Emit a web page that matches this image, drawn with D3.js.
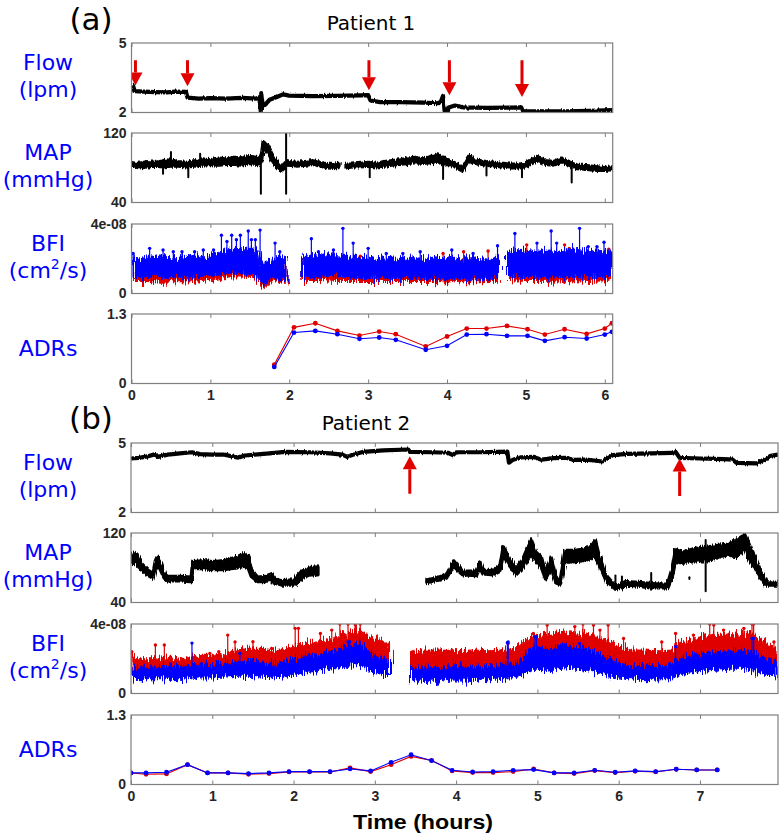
<!DOCTYPE html>
<html>
<head>
<meta charset="utf-8">
<script src="https://cdn.jsdelivr.net/npm/d3@7"></script>
<style>
  body { margin: 0; background: #fff; }
  svg text { font-family: "Liberation Sans", Arial, sans-serif; }
  .lab { font-family: "DejaVu Sans", sans-serif; }
</style>
</head>
<body>
<svg id="chart" width="780" height="836"></svg>
<script>
// ---------- data (time in hours) ----------

// y tick labels (only the limits are labelled)
const flowTicks = [2, 5];
const mapTicks = [40, 120];
const bfiTicks = [0, 4];            // BFI values below are in units of 1e-8 cm2/s
const bfiTickText = ["0", "4e-08"];
const adrTicks = [0, 1.3];

// Patient 1 -- flow [t, lpm]
const flowA = [
  [0.00, 3.10], [0.02, 3.15], [0.04, 2.92], [0.15, 2.90], [0.30, 2.88], [0.45, 2.87], [0.55, 2.90],
  [0.69, 2.89], [0.71, 2.64], [0.85, 2.60], [1.00, 2.62], [1.20, 2.60], [1.40, 2.63], [1.58, 2.60],
  [1.62, 2.66], [1.64, 2.02], [1.645, 2.84], [1.66, 2.40], [1.69, 2.32], [1.75, 2.55], [1.85, 2.68],
  [1.92, 2.78], [2.00, 2.73], [2.30, 2.71], [2.60, 2.72], [2.90, 2.74], [3.00, 2.75], [3.03, 2.52],
  [3.15, 2.45], [3.40, 2.45], [3.70, 2.43], [3.88, 2.40], [3.92, 2.45], [3.95, 2.72], [3.97, 2.05],
  [4.01, 2.05], [4.02, 2.22], [4.10, 2.30], [4.20, 2.22], [4.50, 2.20], [4.80, 2.21], [4.94, 2.22],
  [4.96, 2.06], [5.20, 2.05], [5.50, 2.05], [5.80, 2.07], [6.10, 2.10]
];
// pump-speed change markers [t, tail lpm, tip lpm]
const arrowsA = [[0.05, 4.26, 3.17], [0.71, 4.26, 3.13], [3.01, 4.26, 2.96], [4.03, 4.26, 2.74], [4.95, 4.26, 2.67]];

// Patient 1 -- MAP band [t, low, high]; null = no data
const mapA = [
  [0.00, 82, 86], [0.05, 81, 85], [0.10, 80, 85], [0.20, 81, 87], [0.30, 82, 86], [0.40, 81, 88],
  [0.50, 82, 89], [0.60, 82, 87], [0.70, 81, 86], [0.80, 82, 88], [0.90, 83, 90], [1.00, 84, 89],
  [1.10, 83, 91], [1.20, 84, 90], [1.30, 84, 92], [1.40, 83, 91], [1.50, 85, 93], [1.58, 84, 92],
  [1.62, 83, 89], [1.65, 88, 97], [1.67, 103, 110], [1.72, 99, 106], [1.78, 89, 96], [1.84, 81, 88],
  [1.90, 76, 80], [1.95, 81, 86], [2.00, 83, 87], [2.10, 82, 86], [2.20, 83, 87], [2.30, 84, 88],
  [2.40, 82, 86], [2.50, 80, 84], [2.60, 79, 83], [2.63, 81, 85], null,
  [2.72, 80, 84], [2.80, 81, 84], [2.90, 81, 85], [3.00, 82, 86], [3.10, 81, 85], [3.20, 82, 87],
  [3.30, 83, 88], [3.40, 84, 89], [3.50, 85, 91], [3.60, 86, 92], [3.70, 85, 90], [3.80, 86, 93],
  [3.88, 88, 96], [3.95, 83, 91], [4.02, 84, 89], [4.10, 81, 85], [4.20, 76, 80], [4.29, 89, 94],
  [4.35, 85, 89], [4.50, 83, 87], [4.60, 82, 86], [4.70, 81, 85], [4.80, 80, 84], [4.90, 80, 84],
  [5.00, 81, 85], [5.14, 88, 93], [5.25, 84, 88], [5.35, 83, 87], [5.46, 87, 91], [5.55, 83, 87],
  [5.65, 79, 83], [5.80, 78, 82], [5.90, 77, 81], [6.00, 77, 80], [6.10, 78, 81]
];
// MAP spikes [t, low, high]
const mapSpikesA = [
  [0.40, 73, 84], [0.50, 84, 98], [0.72, 69, 84], [0.87, 84, 96], [1.64, 50, 90], [1.96, 50, 120],
  [3.02, 69, 82], [3.95, 67, 90], [4.50, 71, 84], [4.95, 69, 82], [5.58, 63, 82]
];

// Patient 1 -- BFI bands [t, low, high] (x1e-8)
const bfiRedA = [
  [0.00, 0.70, 1.60], [0.20, 0.70, 1.60], [0.40, 0.65, 1.60], [0.60, 0.70, 1.55], [0.80, 0.65, 1.60],
  [1.00, 0.75, 1.70], [1.10, 0.80, 1.70], [1.20, 0.95, 1.90], [1.40, 0.95, 1.90], [1.60, 0.90, 1.85],
  [1.64, 0.60, 1.40], [1.68, 0.35, 1.10], [1.72, 0.60, 1.60], [1.80, 0.75, 1.70], [1.97, 0.70, 1.60], null,
  [2.16, 0.75, 1.80], [2.40, 0.75, 1.80], [2.60, 0.70, 1.75], [2.80, 0.70, 1.80], [3.00, 0.70, 1.90],
  [3.20, 0.70, 1.85], [3.40, 0.70, 1.90], [3.60, 0.70, 1.85], [3.80, 0.70, 1.90], [4.00, 0.68, 2.00],
  [4.20, 0.70, 2.05], [4.40, 0.68, 2.00], [4.65, 0.70, 2.00], null,
  [4.78, 0.75, 2.20], [5.00, 0.70, 2.30], [5.20, 0.70, 2.35], [5.40, 0.72, 2.30], [5.60, 0.75, 2.40],
  [5.80, 0.70, 2.35], [6.10, 0.75, 2.30]
];
const bfiBlueA = [
  [0.00, 0.95, 2.10], [0.10, 0.90, 2.00], [0.20, 0.95, 2.15], [0.30, 0.90, 2.05], [0.40, 0.95, 2.20],
  [0.50, 0.90, 2.10], [0.60, 0.95, 2.15], [0.70, 0.90, 2.05], [0.80, 0.95, 2.20], [0.90, 1.00, 2.10],
  [1.00, 1.00, 2.25], [1.10, 1.05, 2.30], [1.20, 1.15, 2.50], [1.30, 1.20, 2.60], [1.40, 1.15, 2.55],
  [1.50, 1.10, 2.60], [1.60, 1.10, 2.50], [1.64, 0.80, 1.60], [1.68, 0.50, 1.40], [1.72, 0.80, 1.90],
  [1.80, 0.90, 2.00], [1.90, 0.80, 2.10], [1.97, 0.85, 2.00], null,
  [2.16, 0.95, 2.20], [2.30, 0.90, 2.30], [2.40, 0.95, 2.20], [2.50, 1.00, 2.30], [2.60, 0.95, 2.20],
  [2.70, 0.95, 2.25], [2.80, 0.90, 2.10], [2.90, 0.85, 2.05], [3.00, 0.90, 2.10], [3.10, 0.85, 2.00],
  [3.20, 0.90, 2.10], [3.30, 0.85, 2.05], [3.40, 0.90, 2.00], [3.50, 0.85, 2.10], [3.60, 0.90, 2.05],
  [3.70, 0.85, 2.00], [3.80, 0.90, 2.10], [3.90, 0.85, 2.00], [4.00, 0.80, 2.05], [4.10, 0.85, 2.10],
  [4.20, 0.85, 2.00], [4.30, 0.80, 2.05], [4.40, 0.85, 2.00], [4.50, 0.80, 2.05], [4.60, 0.85, 2.10],
  [4.65, 0.90, 2.00], null,
  [4.78, 1.00, 2.50], [4.90, 0.95, 2.45], [5.00, 0.90, 2.50], [5.10, 0.95, 2.40], [5.20, 0.90, 2.45],
  [5.30, 0.95, 2.50], [5.40, 1.00, 2.40], [5.50, 0.95, 2.50], [5.60, 1.00, 2.55], [5.70, 0.95, 2.50],
  [5.80, 1.00, 2.45], [5.90, 0.95, 2.50], [6.00, 1.00, 2.40], [6.10, 0.95, 2.45]
];
// BFI spike tips [t, value]
const bfiRedSpikesA = [[2.90, 2.15], [3.95, 2.30], [4.21, 2.40], [4.52, 2.45], [5.01, 2.80], [5.49, 2.80], [5.55, 2.60], [6.05, 2.55]];
const bfiBlueSpikesA = [
  [0.02, 2.30], [0.23, 2.60], [0.40, 2.50], [0.53, 2.40], [0.64, 2.40], [0.80, 2.40], [0.91, 2.50],
  [1.04, 2.50], [1.14, 3.35], [1.21, 3.00], [1.27, 3.35], [1.33, 3.10], [1.38, 3.35], [1.48, 3.60],
  [1.52, 3.10], [1.57, 3.10], [1.63, 3.65], [1.82, 2.90], [1.88, 2.40], [2.28, 3.15], [2.37, 2.40],
  [2.43, 2.20], [2.56, 2.50], [2.68, 3.75], [2.81, 2.90], [3.00, 2.60], [3.23, 2.30], [3.44, 2.30],
  [3.66, 2.40], [4.06, 2.50], [4.33, 2.30], [4.64, 2.75], [4.86, 3.45], [5.14, 2.90], [5.32, 3.60],
  [5.39, 2.90], [5.68, 3.75], [5.79, 2.70], [5.90, 2.70], [5.99, 2.95]
];

// Patient 1 -- ADRs
const adrTimeA = [1.81, 2.06, 2.33, 2.61, 2.89, 3.14, 3.35, 3.73, 4.00, 4.25, 4.50, 4.76, 5.02, 5.24, 5.49, 5.77, 6.00, 6.09];
const adrRedA = [0.353, 1.050, 1.127, 0.984, 0.897, 0.972, 0.922, 0.693, 0.879, 1.028, 1.028, 1.077, 1.015, 0.916, 1.015, 0.928, 1.028, 1.127];
const adrBlueA = [0.310, 0.953, 0.984, 0.922, 0.836, 0.860, 0.817, 0.631, 0.705, 0.916, 0.922, 0.891, 0.891, 0.798, 0.866, 0.842, 0.916, 0.966];

// Patient 2 -- flow [t, lpm]
const flowB = [
  [0.00, 4.33], [0.10, 4.36], [0.20, 4.42], [0.30, 4.52], [0.33, 4.40], [0.45, 4.50], [0.60, 4.55],
  [0.75, 4.60], [0.85, 4.52], [1.00, 4.50], [1.15, 4.50], [1.25, 4.42], [1.32, 4.36], [1.40, 4.46],
  [1.60, 4.52], [1.90, 4.62], [2.20, 4.60], [2.45, 4.55], [2.60, 4.50], [2.66, 4.40], [2.72, 4.48],
  [2.86, 4.62], [3.10, 4.68], [3.41, 4.72], [3.43, 4.62], [3.70, 4.60], [3.90, 4.58], [3.96, 4.48],
  [4.00, 4.60], [4.30, 4.60], [4.63, 4.63], [4.65, 4.15], [4.70, 4.28], [4.80, 4.38], [4.95, 4.40],
  [5.05, 4.28], [5.20, 4.35], [5.35, 4.36], [5.45, 4.27], [5.60, 4.28], [5.80, 4.20], [5.93, 4.48],
  [6.10, 4.53], [6.40, 4.55], [6.65, 4.57], [6.70, 4.62], [6.75, 4.36], [7.00, 4.33], [7.30, 4.30],
  [7.40, 4.28], [7.45, 4.14], [7.70, 4.12], [7.80, 4.30], [7.87, 4.45], [7.96, 4.50]
];
const arrowsB = [[3.43, 2.81, 4.43], [6.75, 2.71, 4.33]];

// Patient 2 -- MAP band [t, low, high]
const mapB = [
  [0.00, 85, 93], [0.03, 86, 97], [0.08, 83, 95], [0.12, 78, 86], [0.20, 72, 78], [0.27, 68, 73],
  [0.30, 80, 88], [0.32, 85, 92], [0.36, 78, 86], [0.41, 68, 73], [0.45, 65, 70], [0.60, 65, 70],
  [0.74, 64, 69], [0.76, 79, 87], [0.90, 79, 88], [1.00, 78, 87], [1.15, 78, 88], [1.30, 80, 92],
  [1.38, 82, 96], [1.44, 80, 94], [1.48, 70, 78], [1.56, 64, 69], [1.65, 64, 70], [1.73, 66, 73],
  [1.78, 62, 67], [1.85, 60, 65], [2.00, 60, 66], [2.10, 68, 76], [2.20, 72, 80], [2.30, 72, 81], null,
  [3.64, 63, 66], [3.75, 65, 68], [3.88, 68, 72], [3.97, 82, 88], [4.02, 77, 82], [4.08, 72, 76],
  [4.25, 71, 76], [4.29, 80, 86], [4.33, 73, 77], [4.46, 72, 77], [4.54, 76, 82], [4.58, 94, 104],
  [4.66, 82, 90], [4.74, 72, 79], [4.82, 80, 90], [4.92, 95, 112], [4.98, 88, 98], [5.05, 80, 92],
  [5.10, 67, 74], [5.17, 80, 92], [5.23, 62, 68], [5.28, 60, 65], [5.34, 86, 100], [5.45, 87, 100],
  [5.55, 88, 101], [5.63, 90, 103], [5.71, 95, 112], [5.76, 84, 94], [5.84, 66, 72], [5.94, 57, 61],
  [6.00, 56, 60], [6.10, 60, 64], [6.25, 59, 63], [6.38, 57, 62], [6.50, 57, 61], [6.60, 57, 61],
  [6.66, 70, 80], [6.70, 88, 101], [6.78, 85, 98], [6.90, 88, 101], [7.00, 88, 103], [7.10, 88, 104],
  [7.25, 93, 106], [7.35, 95, 107], [7.45, 92, 112], [7.55, 102, 118], [7.60, 90, 108], [7.70, 75, 85],
  [7.76, 66, 74], [7.81, 60, 64], [7.96, 60, 63]
];
const mapSpikesB = [[1.73, 62, 70], [5.96, 58, 71], [6.04, 57, 70], [6.40, 58, 74], [6.87, 67, 69], [7.07, 53, 112]];

// Patient 2 -- BFI bands [t, low, high] (x1e-8)
const bfiRedB = [
  [0.00, 1.10, 2.20], [0.10, 1.00, 2.00], [0.25, 1.05, 2.00], [0.40, 1.10, 2.05], [0.55, 1.05, 2.00],
  [0.70, 1.10, 2.10], [0.85, 1.10, 2.20], [1.00, 1.15, 2.20], [1.15, 1.20, 2.30], [1.30, 1.25, 2.50],
  [1.45, 1.30, 2.60], [1.60, 1.25, 2.60], [1.75, 1.20, 2.50], [1.90, 1.25, 2.60], [2.00, 1.40, 2.70],
  [2.15, 1.60, 2.90], [2.30, 1.70, 3.00], [2.45, 1.75, 3.10], [2.60, 1.90, 3.40], [2.72, 2.00, 3.60],
  [2.82, 2.00, 3.70], [2.90, 1.80, 3.30], [3.00, 1.70, 3.10], [3.10, 1.60, 3.00], [3.18, 1.50, 2.90], null,
  [3.44, 1.30, 2.40], [3.60, 1.25, 2.50], [3.80, 1.20, 2.50], [4.00, 1.30, 2.45], [4.20, 1.25, 2.50],
  [4.40, 1.30, 2.45], [4.55, 1.30, 2.50], [4.75, 1.40, 2.60], [4.90, 1.80, 3.30], [5.00, 1.90, 3.40],
  [5.15, 1.80, 3.30], [5.30, 2.00, 3.60], [5.45, 2.00, 3.50], [5.60, 1.90, 3.40], [5.75, 1.70, 3.20],
  [5.90, 1.60, 3.00], [6.00, 1.40, 2.70], [6.15, 1.30, 2.50], [6.30, 1.25, 2.50], [6.50, 1.30, 2.45],
  [6.65, 1.30, 2.50], [6.75, 1.60, 2.90], [6.90, 1.70, 3.10], [7.05, 1.80, 3.30], [7.20, 1.85, 3.40],
  [7.35, 1.90, 3.40], [7.50, 1.85, 3.50], [7.65, 1.80, 3.40], [7.80, 1.60, 3.00], [7.90, 1.50, 2.70],
  [7.96, 1.40, 2.50]
];
const bfiBlueB = [
  [0.00, 0.90, 1.60], [0.10, 0.80, 1.50], [0.25, 0.85, 1.50], [0.40, 0.85, 1.55], [0.55, 0.80, 1.50],
  [0.70, 0.85, 1.60], [0.85, 0.90, 1.70], [1.00, 0.90, 1.65], [1.15, 0.95, 1.75], [1.30, 1.00, 1.85],
  [1.45, 1.00, 1.90], [1.60, 0.95, 1.80], [1.75, 0.90, 1.80], [1.90, 0.95, 1.85], [2.00, 1.10, 2.00],
  [2.15, 1.20, 2.20], [2.30, 1.30, 2.30], [2.45, 1.40, 2.45], [2.60, 1.50, 2.60], [2.72, 1.60, 2.80],
  [2.82, 1.60, 2.90], [2.90, 1.40, 2.50], [3.00, 1.20, 2.20], [3.10, 1.10, 2.00], [3.18, 1.10, 1.90], null,
  [3.44, 0.75, 1.50], [3.60, 0.70, 1.45], [3.80, 0.72, 1.50], [4.00, 0.80, 1.55], [4.20, 0.75, 1.50],
  [4.40, 0.80, 1.55], [4.55, 0.85, 1.60], [4.75, 0.95, 1.75], [4.90, 1.30, 2.60], [5.00, 1.40, 2.70],
  [5.15, 1.30, 2.50], [5.30, 1.50, 2.80], [5.45, 1.40, 2.70], [5.60, 1.35, 2.60], [5.75, 1.20, 2.30],
  [5.90, 1.00, 2.00], [6.00, 0.90, 1.80], [6.15, 0.85, 1.60], [6.30, 0.80, 1.55], [6.50, 0.85, 1.55],
  [6.65, 0.85, 1.60], [6.75, 1.10, 2.00], [6.90, 1.20, 2.20], [7.05, 1.30, 2.35], [7.20, 1.35, 2.40],
  [7.35, 1.40, 2.45], [7.50, 1.40, 2.50], [7.65, 1.30, 2.40], [7.80, 1.10, 2.10], [7.90, 1.00, 1.80],
  [7.96, 0.95, 1.70]
];
const bfiRedSpikesB = [
  [0.01, 2.40], [0.30, 2.79], [0.41, 2.79], [0.97, 2.30], [1.08, 2.40], [1.19, 3.36], [1.28, 2.97],
  [1.50, 2.98], [1.73, 2.59], [2.02, 3.75], [2.06, 3.75], [2.33, 3.46], [2.47, 3.65], [2.57, 4.00],
  [2.67, 4.00], [2.76, 3.94], [2.82, 4.00], [2.97, 3.08], [3.15, 2.79], [3.47, 2.40], [3.72, 2.30],
  [3.95, 2.49], [4.32, 2.30], [4.64, 2.88], [4.95, 3.46], [5.12, 3.94], [5.46, 3.85], [5.56, 4.00],
  [5.69, 3.94], [5.77, 3.65], [5.87, 3.94], [6.06, 3.17], [6.53, 2.97], [6.70, 3.46], [6.76, 2.88],
  [6.92, 3.36], [7.12, 4.00], [7.17, 3.94], [7.29, 3.65], [7.54, 3.75], [7.64, 4.00], [7.66, 4.00],
  [7.91, 2.97]
];
const bfiBlueSpikesB = [
  [0.75, 2.90], [1.34, 2.30], [2.67, 2.97], [2.69, 2.98], [4.63, 2.92], [4.64, 2.97], [4.97, 3.27],
  [4.99, 3.26], [5.52, 2.88], [6.70, 2.69], [7.64, 3.17], [7.66, 3.17]
];

// Patient 2 -- ADRs
const adrTimeB = [0.00, 0.185, 0.437, 0.695, 0.942, 1.194, 1.446, 1.698, 1.945, 2.197, 2.449, 2.695, 2.948, 3.200, 3.446,
  3.698, 3.951, 4.203, 4.455, 4.702, 4.954, 5.206, 5.452, 5.705, 5.957, 6.203, 6.455, 6.708, 6.960, 7.212];
const adrRedB = [0.217, 0.192, 0.198, 0.371, 0.217, 0.217, 0.192, 0.204, 0.235, 0.235, 0.235, 0.310, 0.241, 0.371, 0.526,
  0.452, 0.254, 0.223, 0.223, 0.241, 0.291, 0.217, 0.204, 0.260, 0.223, 0.248, 0.235, 0.285, 0.272, 0.272];
const adrBlueB = [0.217, 0.217, 0.229, 0.371, 0.217, 0.217, 0.204, 0.217, 0.241, 0.241, 0.241, 0.291, 0.254, 0.415, 0.557,
  0.446, 0.266, 0.235, 0.241, 0.266, 0.279, 0.217, 0.217, 0.266, 0.229, 0.254, 0.241, 0.285, 0.272, 0.272];

// ---------- drawing ----------
const RED = "#e00000", BLUE = "#0000ff", BOX = "#7f7f7f", INK = "#262626";
const svg = d3.select("#chart");

// ragged-edge look for the densely sampled traces (pure rendering filter)
const defs = svg.append("defs");
[["rough-s", 3], ["rough-m", 5], ["rough-l", 16]].forEach(([id, k]) => {
  const f = defs.append("filter").attr("id", id)
    .attr("x", "-2%").attr("y", "-40%").attr("width", "104%").attr("height", "180%");
  f.append("feTurbulence").attr("type", "fractalNoise").attr("baseFrequency", "0.9 0.04")
    .attr("numOctaves", 2).attr("seed", 7).attr("result", "n");
  f.append("feDisplacementMap").attr("in", "SourceGraphic").attr("in2", "n")
    .attr("scale", k).attr("xChannelSelector", "B").attr("yChannelSelector", "G");
});

let clipId = 0;
function drawFrame(x, top, h, domain, tickVals, tickText, showXLabels) {
  const y = d3.scaleLinear().domain(domain).range([top + h, top]);
  const bottom = top + h;

  const gb = svg.append("g").attr("transform", `translate(0,${bottom})`)
    .call(d3.axisBottom(x).ticks(8).tickSize(-4).tickPadding(7).tickFormat(showXLabels ? d3.format("d") : ""));
  const gt = svg.append("g").attr("transform", `translate(0,${top})`)
    .call(d3.axisTop(x).ticks(8).tickSize(-4).tickFormat(""));
  const gl = svg.append("g").attr("transform", `translate(${x.range()[0]},0)`)
    .call(d3.axisLeft(y).tickValues(tickVals).tickSize(0).tickPadding(5)
      .tickFormat((d, i) => tickText ? tickText[i] : d3.format("")(d)));

  [gb, gt, gl].forEach(g => {
    g.select(".domain").remove();
    g.selectAll(".tick line").attr("stroke", BOX).attr("stroke-width", 1);
    g.selectAll("text").attr("font-family", "Liberation Sans, Arial, sans-serif")
      .attr("font-size", 14).attr("font-weight", "bold").attr("fill", INK);
  });

  const id = "clip" + (clipId++);
  defs.append("clipPath").attr("id", id).append("rect")
    .attr("x", x.range()[0]).attr("y", top)
    .attr("width", x.range()[1] - x.range()[0]).attr("height", h);
  const content = svg.append("g").attr("clip-path", `url(#${id})`);

  svg.append("rect")
    .attr("x", x.range()[0]).attr("y", top)
    .attr("width", x.range()[1] - x.range()[0]).attr("height", h)
    .attr("fill", "none").attr("stroke", BOX).attr("stroke-width", 1.2);
  return { y, g: content };
}

function band(g, x, y, data, color, sw, rough) {
  g.append("path").datum(data)
    .attr("d", d3.area().defined(d => d).x(d => x(d[0])).y0(d => y(d[1])).y1(d => y(d[2])))
    .attr("fill", color).attr("stroke", color).attr("stroke-width", sw)
    .attr("stroke-linejoin", "round")
    .attr("filter", `url(#${rough})`);
}

function vSpikes(g, x, y, data, color, sw) {
  g.selectAll(null).data(data).join("line")
    .attr("x1", d => x(d[0])).attr("x2", d => x(d[0]))
    .attr("y1", d => y(d[1])).attr("y2", d => y(d[2]))
    .attr("stroke", color).attr("stroke-width", sw).attr("stroke-linecap", "round");
}

// spike from the band's nearest knot up to the tip value, with a dot at the tip
function tipSpikes(g, x, y, tips, bandData, color) {
  const knots = bandData.filter(d => d);
  const near = d3.bisector(d => d[0]).center;
  const segs = tips.map(s => { const k = knots[near(knots, s[0])]; return [s[0], k[1], s[1]]; });
  vSpikes(g, x, y, segs, color, 1.2);
  g.selectAll(null).data(tips).join("circle")
    .attr("cx", d => x(d[0])).attr("cy", d => y(d[1])).attr("r", 1.7).attr("fill", color);
}

function flowLine(g, x, y, data) {
  g.append("path").datum(data)
    .attr("d", d3.line().x(d => x(d[0])).y(d => y(d[1])))
    .attr("fill", "none").attr("stroke", "#000").attr("stroke-width", 4.2)
    .attr("stroke-linejoin", "round")
    .attr("filter", "url(#rough-s)");
}

function arrows(g, x, y, data) {
  data.forEach(([t, from, to]) => {
    const px = x(t), y1 = y(from), y2 = y(to);
    const dir = Math.sign(y2 - y1), base = y2 - dir * 13;
    g.append("line").attr("x1", px).attr("x2", px).attr("y1", y1).attr("y2", base)
      .attr("stroke", RED).attr("stroke-width", 3);
    g.append("path").attr("d", `M${px - 7},${base}L${px + 7},${base}L${px},${y2}Z`).attr("fill", RED);
  });
}

function adr(g, x, y, times, vals, color) {
  const pts = times.map((t, i) => [t, vals[i]]);
  g.append("path").datum(pts)
    .attr("d", d3.line().x(d => x(d[0])).y(d => y(d[1])))
    .attr("fill", "none").attr("stroke", color).attr("stroke-width", 1.1);
  g.selectAll(null).data(pts).join("circle")
    .attr("cx", d => x(d[0])).attr("cy", d => y(d[1])).attr("r", 2.4).attr("fill", color);
}

function rowLabel(lines, cy) {
  const t = svg.append("text").attr("class", "lab").attr("text-anchor", "middle")
    .attr("font-size", 22).attr("fill", BLUE);
  if (lines.length === 1) {
    t.attr("x", 48).attr("y", cy + 7).text(lines[0]);
  } else {
    t.append("tspan").attr("x", 48).attr("y", cy - 8).text(lines[0]);
    const l2 = t.append("tspan").attr("x", 48).attr("y", cy + 19);
    if (lines[1] === "cm2") {
      l2.append("tspan").text("(cm");
      l2.append("tspan").attr("font-size", 14).attr("dy", -9).text("2");
      l2.append("tspan").attr("dy", 9).text("/s)");
    } else {
      l2.text(lines[1]);
    }
  }
}

function panel(p) {
  const x = d3.scaleLinear().domain([0, p.xmax]).range([p.left, p.right]);
  const H = 69.5;
  const [tFlow, tMap, tBfi, tAdr] = p.tops;

  const F = drawFrame(x, tFlow, H, [2, 5], flowTicks, null, false);
  const M = drawFrame(x, tMap, H, [40, 120], mapTicks, null, false);
  const B = drawFrame(x, tBfi, H, [0, 4], bfiTicks, bfiTickText, false);
  const A = drawFrame(x, tAdr, H, [0, 1.3], adrTicks, null, true);

  flowLine(F.g, x, F.y, p.flow);
  arrows(F.g, x, F.y, p.arrows);

  band(M.g, x, M.y, p.map, "#000", 3.4, "rough-m");
  vSpikes(M.g, x, M.y, p.mapSpikes, "#000", 2);

  band(B.g, x, B.y, p.bfiRed, RED, 1.2, "rough-l");
  tipSpikes(B.g, x, B.y, p.bfiRedSpikes, p.bfiRed, RED);
  band(B.g, x, B.y, p.bfiBlue, BLUE, 1.2, "rough-l");
  tipSpikes(B.g, x, B.y, p.bfiBlueSpikes, p.bfiBlue, BLUE);

  adr(A.g, x, A.y, p.adrTime, p.adrRed, RED);
  adr(A.g, x, A.y, p.adrTime, p.adrBlue, BLUE);

  rowLabel(["Flow", "(lpm)"], tFlow + H / 2);
  rowLabel(["MAP", "(mmHg)"], tMap + H / 2);
  rowLabel(["BFI", "cm2"], tBfi + H / 2);
  rowLabel(["ADRs"], tAdr + H / 2);

  svg.append("text").attr("class", "lab").attr("x", 91).attr("y", p.tag[1])
    .attr("text-anchor", "middle").attr("font-size", 31).attr("fill", "#000").text(p.tag[0]);
  svg.append("text").attr("class", "lab").attr("x", p.title[1]).attr("y", p.title[2])
    .attr("text-anchor", "middle").attr("font-size", 20).attr("fill", "#000").text(p.title[0]);
}

panel({
  xmax: 6.1, left: 131.5, right: 612.7, tops: [43, 133, 224, 314],
  tag: ["(a)", 30], title: ["Patient 1", 371, 30],
  flow: flowA, arrows: arrowsA, map: mapA, mapSpikes: mapSpikesA,
  bfiRed: bfiRedA, bfiBlue: bfiBlueA, bfiRedSpikes: bfiRedSpikesA, bfiBlueSpikes: bfiBlueSpikesA,
  adrTime: adrTimeA, adrRed: adrRedA, adrBlue: adrBlueA
});

panel({
  xmax: 7.96, left: 131, right: 778, tops: [443, 533, 624, 715],
  tag: ["(b)", 429], title: ["Patient 2", 366, 430],
  flow: flowB, arrows: arrowsB, map: mapB, mapSpikes: mapSpikesB,
  bfiRed: bfiRedB, bfiBlue: bfiBlueB, bfiRedSpikes: bfiRedSpikesB, bfiBlueSpikes: bfiBlueSpikesB,
  adrTime: adrTimeB, adrRed: adrRedB, adrBlue: adrBlueB
});

svg.append("text").attr("x", 423).attr("y", 829).attr("text-anchor", "middle")
  .attr("font-size", 21).attr("font-weight", "bold").attr("fill", "#000")
  .attr("textLength", 140).attr("lengthAdjust", "spacingAndGlyphs")
  .text("Time (hours)");
</script>
</body>
</html>
